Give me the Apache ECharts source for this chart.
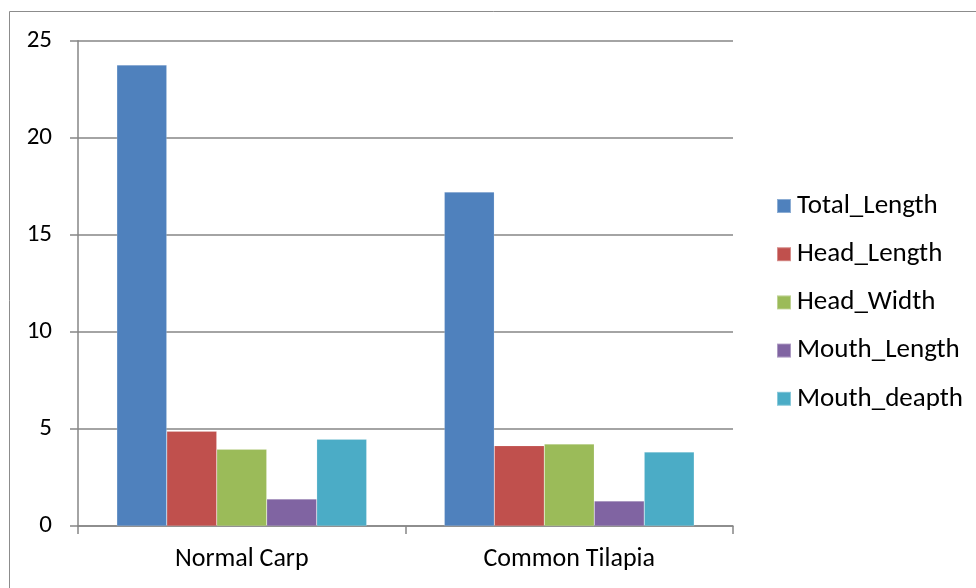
<!DOCTYPE html>
<html>
<head>
<meta charset="utf-8">
<script src="https://cdn.jsdelivr.net/npm/echarts@6/dist/echarts.min.js"></script>
<style>
  html, body { margin: 0; padding: 0; background: #fff; }
  #chart { width: 976px; height: 588px; }
</style>
</head>
<body>
<div id="chart"></div>
<script>
// Fish morphometrics by species
const categories = ['Normal Carp', 'Common Tilapia'];
const seriesNames = ['Total_Length', 'Head_Length', 'Head_Width', 'Mouth_Length', 'Mouth_deapth'];
const totalLength = [23.75, 17.2];
const headLength = [4.88, 4.14];
const headWidth = [3.95, 4.22];
const mouthLength = [1.39, 1.29];
const mouthDeapth = [4.47, 3.81];
const yTicks = [0, 5, 10, 15, 20, 25];

const palette = ['#4F81BD', '#C0504D', '#9BBB59', '#8064A2', '#4BACC6'];
const values = [totalLength, headLength, headWidth, mouthLength, mouthDeapth];
const FONT = 'Carlito, "Liberation Sans", sans-serif';

const chart = echarts.init(document.getElementById('chart'), null, { renderer: 'canvas' });

chart.setOption({
  animation: false,
  backgroundColor: '#ffffff',
  color: palette,
  graphic: [{
    type: 'rect',
    shape: { x: 9.5, y: 11.5, width: 1000, height: 620 },
    style: { fill: 'none', stroke: '#8c8c8c', lineWidth: 1 },
    silent: true
  }],
  grid: { left: 78, right: 243, top: 40.7, bottom: 62 },
  legend: {
    orient: 'vertical',
    left: 776,
    top: 192.5,
    padding: 0,
    itemWidth: 14,
    itemHeight: 14,
    itemGap: 21.2,
    icon: 'rect',
    textStyle: { fontFamily: FONT, fontSize: 27, lineHeight: 27, color: '#000', padding: [0, 0, 0, 1] },
    data: seriesNames
  },
  xAxis: {
    type: 'category',
    data: categories,
    axisLine: { lineStyle: { color: '#868686', width: 1.5 } },
    axisTick: { show: true, length: 8, alignWithLabel: false, lineStyle: { color: '#868686', width: 1.5 } },
    axisLabel: { fontFamily: FONT, fontSize: 26, color: '#000', margin: 20 },
    splitLine: { show: false }
  },
  yAxis: {
    type: 'value',
    min: yTicks[0],
    max: yTicks[yTicks.length - 1],
    interval: yTicks[1] - yTicks[0],
    axisLine: { show: true, lineStyle: { color: '#868686', width: 1.5 } },
    axisTick: { show: true, length: 8, lineStyle: { color: '#868686', width: 1.5 } },
    axisLabel: { fontFamily: FONT, fontSize: 25, color: '#000', margin: 26 },
    splitLine: { show: true, lineStyle: { color: '#868686', width: 1.5 } }
  },
  series: seriesNames.map((name, i) => ({
    name: name,
    type: 'bar',
    data: values[i],
    barGap: '0%',
    barCategoryGap: '23.7%',
    itemStyle: { color: palette[i], borderColor: 'rgba(255,255,255,0.35)', borderWidth: 0.5 }
  }))
});
</script>
</body>
</html>
